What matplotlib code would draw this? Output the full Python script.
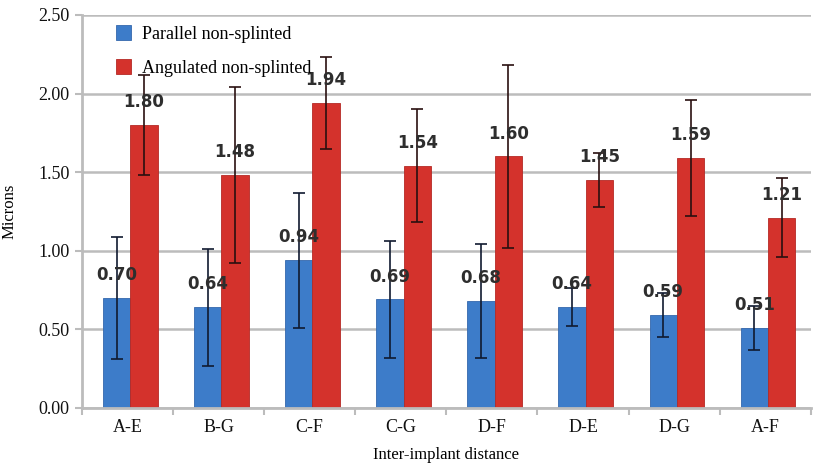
import matplotlib
matplotlib.use("Agg")
import matplotlib.pyplot as plt
import numpy as np
from matplotlib.ticker import FixedLocator

categories = ["A-E", "B-G", "C-F", "C-G", "D-F", "D-E", "D-G", "A-F"]
parallel = [0.70, 0.64, 0.94, 0.69, 0.68, 0.64, 0.59, 0.51]
angulated = [1.80, 1.48, 1.94, 1.54, 1.60, 1.45, 1.59, 1.21]
parallel_err = [0.39, 0.37, 0.43, 0.37, 0.36, 0.12, 0.14, 0.14]
angulated_err = [0.32, 0.56, 0.29, 0.36, 0.58, 0.17, 0.37, 0.25]
series_names = ["Parallel non-splinted", "Angulated non-splinted"]

fig = plt.figure(figsize=(8.19, 4.65), dpi=100)
ax = fig.add_axes([0.100, 0.1226, 0.890, 0.8454])

x = np.arange(len(categories))
w = 0.30
blue = "#3d7cc9"
red = "#d4322c"
grid_c = "#bcbcbc"

ax.set_axisbelow(True)
ax.yaxis.grid(True, color=grid_c, linewidth=1.8)

ax.bar(x - w / 2 + 0.03, parallel, w, color=blue, edgecolor="#3468ad", linewidth=0.6,
       label=series_names[0], zorder=2)
ax.bar(x + w / 2 + 0.03, angulated, w, color=red, edgecolor="#b52a25", linewidth=0.6,
       label=series_names[1], zorder=2)
ax.errorbar(x - w / 2 + 0.03, parallel, yerr=parallel_err, fmt="none", ecolor="#101a30",
            elinewidth=1.2, capsize=4, capthick=1.2, zorder=3)
ax.errorbar(x + w / 2 + 0.03, angulated, yerr=angulated_err, fmt="none", ecolor="#2a1010",
            elinewidth=1.2, capsize=4, capthick=1.2, zorder=3)

for xs, vals in ((x - w / 2 + 0.03, parallel), (x + w / 2 + 0.03, angulated)):
    for xi, v in zip(xs, vals):
        ax.annotate(f"{v:.2f}", (xi, v), xytext=(0, 10), textcoords="offset points",
                    ha="center", va="bottom", fontsize=12, fontweight="bold",
                    color="#2e2e2e", family="DejaVu Sans", zorder=4)

ax.set_ylim(0, 2.5)
ax.set_xlim(-0.5, len(categories) - 0.5)
ax.set_yticks(np.arange(0, 2.51, 0.5))
ax.set_yticklabels([f"{t:.2f}" for t in np.arange(0, 2.51, 0.5)])
ax.set_xticks(x)
ax.set_xticklabels(categories)
ax.xaxis.set_minor_locator(FixedLocator(np.arange(-0.5, len(categories), 1.0)))
ax.tick_params(axis="x", which="major", length=0, pad=8)
ax.tick_params(axis="x", which="minor", length=5, color=grid_c, width=1.5)
ax.tick_params(axis="y", length=5, color=grid_c, width=1.5, pad=4)
for lbl in ax.get_xticklabels() + ax.get_yticklabels():
    lbl.set_family("Liberation Serif")
    lbl.set_fontsize(13)
    lbl.set_color("#111111")

for s in ("top", "right"):
    ax.spines[s].set_visible(False)
for s in ("left", "bottom"):
    ax.spines[s].set_color(grid_c)
    ax.spines[s].set_linewidth(2)

ax.set_ylabel("Microns", family="Liberation Serif", fontsize=12)
ax.yaxis.set_label_coords(-0.088, 0.5)
ax.set_xlabel("Inter-implant distance", family="Liberation Serif", fontsize=12, labelpad=8)

ax.legend(loc="upper left", bbox_to_anchor=(0.025, 1.015), frameon=False,
          prop={"family": "Liberation Serif", "size": 13}, handlelength=0.8,
          handleheight=0.9, handletextpad=0.6, labelspacing=0.9)

fig.savefig("out.png", dpi=100)
